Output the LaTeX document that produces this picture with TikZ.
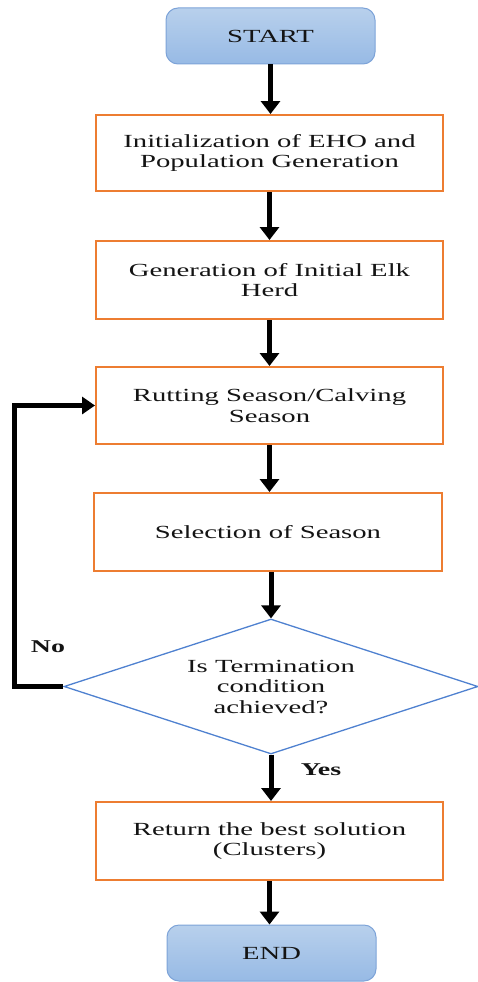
\documentclass[tikz,border=0pt]{standalone}
\usepackage{fontspec}
\setmainfont[FakeStretch=1.55]{Liberation Serif}
\usetikzlibrary{shapes.geometric,arrows.meta}
\definecolor{boxorange}{HTML}{ED7D31}
\definecolor{diablue}{HTML}{4F81D0}
\definecolor{termtop}{HTML}{B8D0EC}
\definecolor{termbot}{HTML}{97BAE5}
\definecolor{termline}{HTML}{7DA3D8}
\begin{document}
\begin{tikzpicture}[x=1pt,y=-1pt,
  every node/.style={font=\fontsize{18.5}{20.5}\selectfont, text=black!92},
  term/.style={draw=termline, line width=1pt, rounded corners=12pt,
    top color=termtop, bottom color=termbot, minimum width=209pt,
    minimum height=56pt, inner sep=0pt},
  proc/.style={draw=boxorange, line width=2pt, fill=white, minimum width=347pt,
    inner sep=0pt, align=center},
  dec/.style={diamond, draw=diablue, line width=1.3pt, minimum width=414pt,
    minimum height=135pt, aspect=3.07, inner sep=0pt, align=center},
  flow/.style={line width=5pt, -{Triangle[length=13pt,width=19pt]}},
  lbl/.style={font=\fontsize{18}{20}\selectfont\bfseries}
]
\useasboundingbox (0,0) rectangle (478,982);
\node[term] (start) at (270.5,36) {START};
\node[proc, minimum height=76pt] (b1) at (269.5,153) {Initialization of EHO and\\Population Generation};
\node[proc, minimum height=78pt] (b2) at (269.5,280) {Generation of Initial Elk\\Herd};
\node[proc, minimum height=77pt] (b3) at (269.5,405.5) {Rutting Season/Calving\\Season};
\node[proc, minimum height=78pt, minimum width=348pt] (b4) at (268,532) {Selection of Season};
\node[dec] (dec) at (271,686.5) {Is Termination\\condition\\achieved?};
\node[proc, minimum height=78pt] (b5) at (269.5,841) {Return the best solution\\(Clusters)};
\node[term] (end) at (271.5,953) {END};
\node[lbl] (no) at (48,647) {No};
\node[lbl] (yes) at (321,770) {Yes};
\draw[flow] (start.south) -- (start.south |- b1.north);
\draw[flow] (b1.south) -- (b1.south |- b2.north);
\draw[flow] (b2.south) -- (b2.south |- b3.north);
\draw[flow] (b3.south) -- (b3.south |- b4.north);
\draw[flow] (b4.south -| dec.north) -- (dec.north);
\draw[flow] (dec.south) -- (dec.south |- b5.north);
\draw[flow] (b5.south) -- (b5.south |- end.north);
\draw[flow, -{Triangle[length=13pt,width=17pt]}] (dec.west) -- ++(-49,0) |- (b3.west);
\end{tikzpicture}
\end{document}
